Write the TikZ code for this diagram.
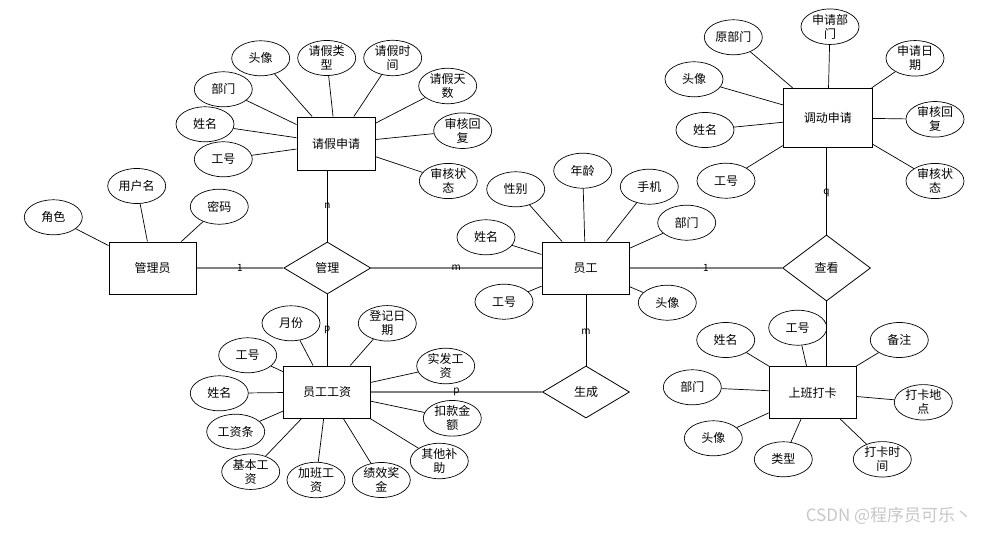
\documentclass[tikz,border=0pt]{standalone}
\usepackage{fontspec}
\setmainfont{Noto Sans CJK SC}
\usetikzlibrary{shapes.geometric}
\begin{document}
\begin{tikzpicture}[x=1pt,y=-1pt,
  attr/.style={ellipse,draw,line width=0.7pt,minimum width=58pt,minimum height=35pt,inner sep=0pt,align=center,font=\fontsize{12}{14}\selectfont},
  ent/.style={rectangle,draw,line width=1pt,inner sep=0pt,align=center,font=\fontsize{12}{14}\selectfont},
  rel/.style={diamond,draw,line width=0.8pt,inner sep=0pt,align=center,font=\fontsize{12}{14}\selectfont},
  lk/.style={line width=0.7pt},
  rl/.style={draw=black!50,line width=1.7pt},
  card/.style={font=\fontsize{10}{12}\selectfont,inner sep=0pt},
  wm/.style={text=black!22,font=\fontsize{17}{20}\selectfont,inner sep=0pt}]
\useasboundingbox (0,0) rectangle (988,533);

% entities
\node[ent,minimum width=78pt,minimum height=53pt] (qj) at (336,143.5) {请假申请};
\node[ent,minimum width=87pt,minimum height=52pt] (gly) at (152.5,268) {管理员};
\node[ent,minimum width=87pt,minimum height=52pt] (yg) at (585.5,268) {员工};
\node[ent,minimum width=89pt,minimum height=59pt] (dd) at (827.8,117.8) {调动申请};
\node[ent,minimum width=87pt,minimum height=52pt] (gz) at (327,392) {员工工资};
\node[ent,minimum width=87pt,minimum height=52pt] (dk) at (812.7,392.7) {上班打卡};

% relationships
\node[rel,minimum width=87pt,minimum height=52pt] (gl) at (327.3,268) {管理};
\node[rel,minimum width=88pt,minimum height=66pt] (ck) at (826.5,268) {查看};
\node[rel,minimum width=87pt,minimum height=52pt] (sc) at (586,392) {生成};

% attributes of 请假申请
\node[attr] (q1) at (260.7,58.3) {头像};
\node[attr] (q2) at (326.7,58) {请假类\\型};
\node[attr] (q3) at (392.7,58) {请假时\\间};
\node[attr] (q4) at (447.7,86) {请假天\\数};
\node[attr] (q5) at (462.7,130.7) {审核回\\复};
\node[attr] (q6) at (448.3,181) {审核状\\态};
\node[attr] (q7) at (223.3,89.3) {部门};
\node[attr] (q8) at (205,124.3) {姓名};
\node[attr] (q9) at (223.3,159.3) {工号};
\foreach \a in {q1,q2,q3,q4,q5,q6,q7,q8,q9} \draw[lk] (\a) -- (qj);

% attributes of 管理员
\node[attr] (a1) at (53.3,217.3) {角色};
\node[attr] (a2) at (136.7,186) {用户名};
\node[attr] (a3) at (219.3,206.7) {密码};
\foreach \a in {a1,a2,a3} \draw[lk] (\a) -- (gly);

% attributes of 员工
\node[attr] (y1) at (515.7,189.3) {性别};
\node[attr] (y2) at (582.7,170.7) {年龄};
\node[attr] (y3) at (649.3,186.7) {手机};
\node[attr] (y4) at (686.7,222.7) {部门};
\node[attr] (y5) at (486,237.3) {姓名};
\node[attr] (y6) at (504,301.7) {工号};
\node[attr] (y7) at (667.3,302.7) {头像};
\foreach \a in {y1,y2,y3,y4,y5,y6,y7} \draw[lk] (\a) -- (yg);

% attributes of 调动申请
\node[attr] (d1) at (733.3,37.3) {原部门};
\node[attr] (d2) at (830,26.7) {申请部\\门};
\node[attr] (d3) at (915,58.3) {申请日\\期};
\node[attr] (d4) at (694,79.3) {头像};
\node[attr] (d5) at (935,119.3) {审核回\\复};
\node[attr] (d6) at (705,130) {姓名};
\node[attr] (d7) at (726,180.7) {工号};
\node[attr] (d8) at (935,181) {审核状\\态};
\foreach \a in {d1,d2,d3,d4,d5,d6,d7,d8} \draw[lk] (\a) -- (dd);

% attributes of 员工工资
\node[attr] (g1) at (291,323.3) {月份};
\node[attr] (g2) at (387.3,323.3) {登记日\\期};
\node[attr] (g3) at (247.7,355.3) {工号};
\node[attr] (g4) at (445.7,366) {实发工\\资};
\node[attr] (g5) at (219.3,393.3) {姓名};
\node[attr] (g6) at (452.3,418.3) {扣款金\\额};
\node[attr] (g7) at (235.7,431.7) {工资条};
\node[attr] (g8) at (439.3,461) {其他补\\助};
\node[attr] (g9) at (250.7,471.7) {基本工\\资};
\node[attr] (g10) at (316,480) {加班工\\资};
\node[attr] (g11) at (381.3,480) {绩效奖\\金};
\foreach \a in {g1,g2,g3,g4,g5,g6,g7,g8,g9,g10,g11} \draw[lk] (\a) -- (gz);

% attributes of 上班打卡
\node[attr] (k1) at (725.7,340) {姓名};
\node[attr] (k2) at (797.7,327.7) {工号};
\node[attr] (k3) at (899.3,340) {备注};
\node[attr] (k4) at (692.3,387.3) {部门};
\node[attr] (k5) at (923.3,402.3) {打卡地\\点};
\node[attr] (k6) at (713.3,438.3) {头像};
\node[attr] (k7) at (783.3,459.3) {类型};
\node[attr] (k8) at (882.3,459.3) {打卡时\\间};
\foreach \a in {k1,k2,k3,k4,k5,k6,k7,k8} \draw[lk] (\a) -- (dk);

% relationship links
\draw[rl] (gly) -- node[card,text=black] {1} (gl);
\draw[rl] (gl) -- node[card,text=black,pos=0.5] {m} (yg);
\draw[rl] (yg) -- node[card,text=black] {1} (ck);
\draw[rl] (gz) -- node[card,text=black] {p} (sc);
\draw[lk] (qj.south -| gl.north) -- node[card] {n} (gl.north);
\draw[lk] (gl.south) -- node[card] {p} (gz.north -| gl.south);
\draw[lk] (yg.south -| sc.north) -- node[card,pos=0.53] {m} (sc.north);
\draw[lk] (dd.south -| ck.north) -- node[card,pos=0.52] {q} (ck.north);
\draw[lk] (ck.south) -- (dk.north -| ck.south);

% watermark
\node[wm] (wmk) at (889,516) {CSDN @程序员可乐丶};
\end{tikzpicture}
\end{document}
